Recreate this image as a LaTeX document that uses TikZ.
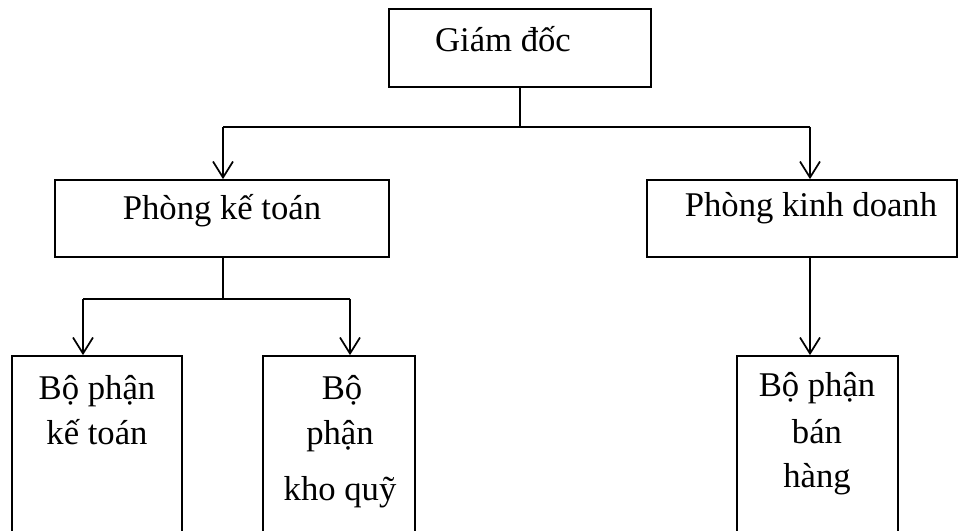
\documentclass[tikz,border=0pt]{standalone}
\usepackage{fontspec}
\setmainfont{Liberation Serif}
\usetikzlibrary{arrows.meta,fit}
\begin{document}
\begin{tikzpicture}[x=0.75pt,y=-0.75pt,
  line width=1.3pt,
  box/.style={draw, inner sep=0pt, rectangle},
  lbl/.style={inner sep=0pt, align=center, font=\fontsize{26}{34}\selectfont},
  arr/.style={-{Straight Barb[length=12pt,width=15pt]}}]
\useasboundingbox (0,0) rectangle (958,531);
\clip (0,0) rectangle (958,531);

% boxes
\node[box, fit={(389,9) (651,87)}] (gd) {};
\node[box, fit={(55,180) (389,257)}] (pkt) {};
\node[box, fit={(647,180) (957,257)}] (pkd) {};
\node[box, fit={(12,356) (182,600)}] (bpkt) {};
\node[box, fit={(263,356) (415,600)}] (bpkq) {};
\node[box, fit={(737,356) (898,600)}] (bpbh) {};

% labels
\node[lbl, anchor=base] (tgd) at (503,52) {Giám đốc};
\node[lbl, anchor=base] (tpkt) at (222,220) {Phòng kế toán};
\node[lbl, anchor=base] (tpkd) at (811,217) {Phòng kinh doanh};
\node[lbl, anchor=base] (tbpkt) at (97,400) {Bộ phận};
\node[lbl, anchor=base] (tbpkt2) at (97,445) {kế toán};
\node[lbl, anchor=base] (tbpkq) at (342,400) {Bộ};
\node[lbl, anchor=base] (tbpkq2) at (340,445) {phận};
\node[lbl, anchor=base] (tbpkq3) at (340,500) {kho quỹ};
\node[lbl, anchor=base] (tbpbh) at (817,397) {Bộ phận};
\node[lbl, anchor=base] (tbpbh2) at (817,443) {bán};
\node[lbl, anchor=base] (tbpbh3) at (817,487) {hàng};

% connectors
\coordinate (j1) at (520,127);
\coordinate (j1l) at (223,127);
\coordinate (j1r) at (810,127);
\draw (gd.south) -- (j1);
\draw (j1l) -- (j1r);
\draw[arr] (j1l) -- (j1l |- pkt.north);
\draw[arr] (j1r) -- (j1r |- pkd.north);

\coordinate (j2) at (223,299);
\coordinate (j2l) at (83,299);
\coordinate (j2r) at (350,299);
\draw (j2 |- pkt.south) -- (j2);
\draw (j2l) -- (j2r);
\draw[arr] (j2l) -- (j2l |- bpkt.north);
\draw[arr] (j2r) -- (j2r |- bpkq.north);

\draw[arr] (j1r |- pkd.south) -- (j1r |- bpbh.north);
\end{tikzpicture}
\end{document}
